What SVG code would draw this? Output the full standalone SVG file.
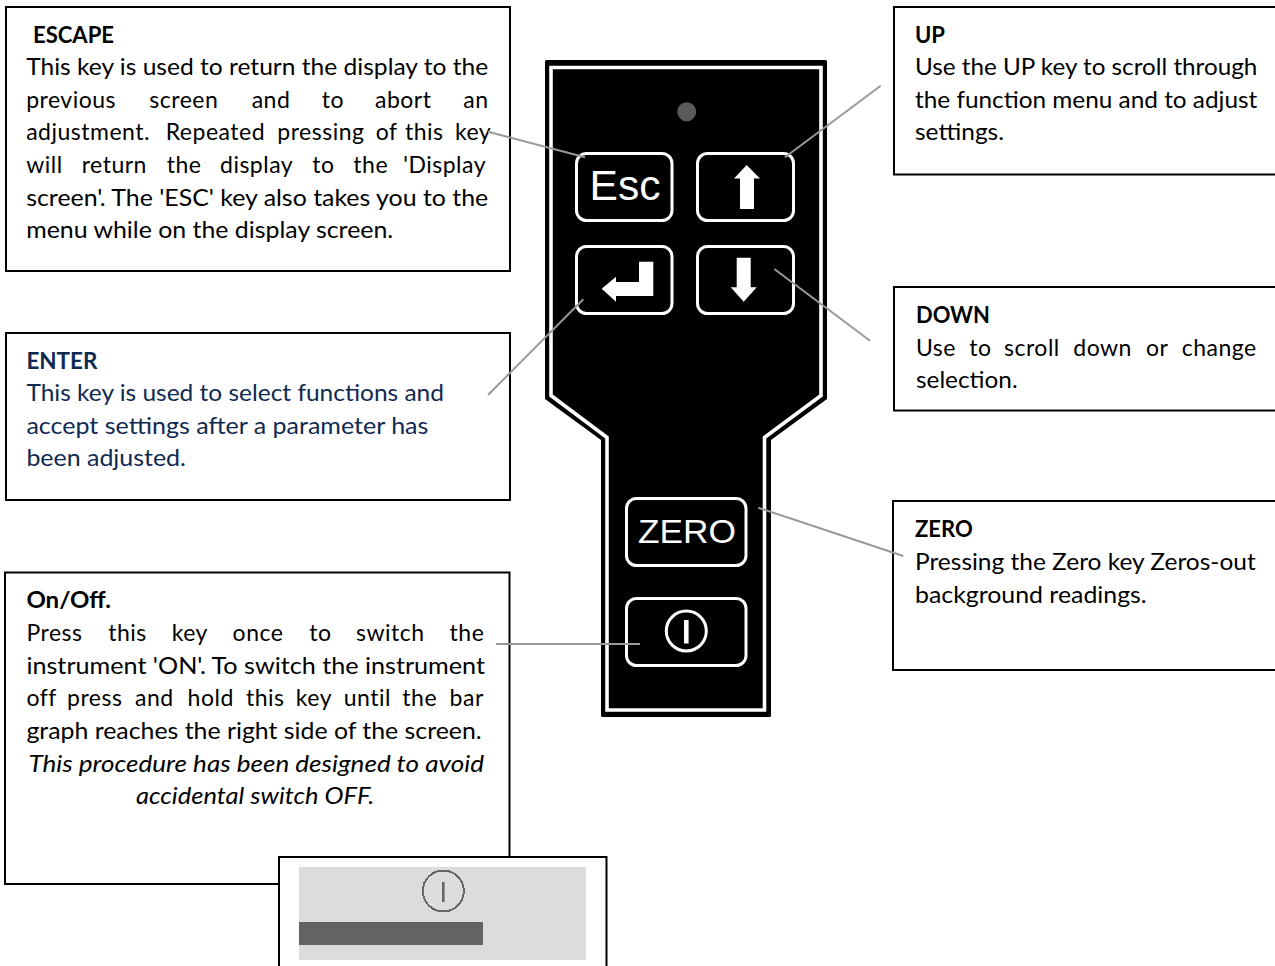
<svg xmlns="http://www.w3.org/2000/svg" width="1275" height="966" viewBox="0 0 1275 966">
<style>
.box{fill:#fff;stroke:#000;stroke-width:2}
.t{font-family:"Lato","Carlito","Noto Sans",sans-serif;font-size:23px;fill:#000}
.j{letter-spacing:.5px}
.b{font-weight:700}
.i{font-style:italic}
.n{fill:#0f2a52}
.key{fill:#000;stroke:#fff;stroke-width:3}
.glyph{fill:#fff}
.lbl{font-family:"Liberation Sans",Arial,sans-serif;fill:#fff}
.conn{stroke:#999;stroke-width:2;fill:none}
</style>
<rect width="1275" height="966" fill="#fff"/>

<g id="node-escape">
<rect class="box" x="6" y="7" width="504" height="264"/>
<text class="t b" x="33" y="43" textLength="81" lengthAdjust="spacingAndGlyphs">ESCAPE</text>
<text class="t" x="26.2" y="75" textLength="462" lengthAdjust="spacingAndGlyphs">This key is used to return the display to the</text>
<text class="t j" y="107.7"><tspan x="26.2">previous</tspan><tspan x="149.3">screen</tspan><tspan x="251.7">and</tspan><tspan x="321.7">to</tspan><tspan x="375">abort</tspan><tspan x="463.3">an</tspan></text>
<text class="t j" y="140.4"><tspan x="26.2">adjustment.</tspan><tspan x="165.7">Repeated</tspan><tspan x="277.3">pressing</tspan><tspan x="375.7">of</tspan><tspan x="405">this</tspan><tspan x="455">key</tspan></text>
<text class="t j" y="173"><tspan x="26.2">will</tspan><tspan x="81.7">return</tspan><tspan x="166.7">the</tspan><tspan x="220">display</tspan><tspan x="312.3">to</tspan><tspan x="353.3">the</tspan><tspan x="403.3">'Display</tspan></text>
<text class="t" x="26.2" y="205.7" textLength="462" lengthAdjust="spacingAndGlyphs">screen'. The 'ESC' key also takes you to the</text>
<text class="t" x="26.2" y="238.4" textLength="367" lengthAdjust="spacingAndGlyphs">menu while on the display screen.</text>
</g>

<g id="node-enter">
<rect class="box" x="6" y="333" width="504" height="167"/>
<text class="t b n" x="26.4" y="369" textLength="71" lengthAdjust="spacingAndGlyphs">ENTER</text>
<text class="t n" x="26.4" y="401" textLength="417.6" lengthAdjust="spacingAndGlyphs">This key is used to select functions and</text>
<text class="t n" x="26.4" y="433.6" textLength="402" lengthAdjust="spacingAndGlyphs">accept settings after a parameter has</text>
<text class="t n" x="26.4" y="466.3" textLength="159.6" lengthAdjust="spacingAndGlyphs">been adjusted.</text>
</g>

<g id="node-onoff">
<rect class="box" x="5" y="572.5" width="504.5" height="311.5"/>
<text class="t b" x="26.4" y="608" textLength="84.6" lengthAdjust="spacingAndGlyphs">On/Off.</text>
<text class="t j" y="641"><tspan x="26.4">Press</tspan><tspan x="108.2">this</tspan><tspan x="171.7">key</tspan><tspan x="232.6">once</tspan><tspan x="309.3">to</tspan><tspan x="356">switch</tspan><tspan x="449.6">the</tspan></text>
<text class="t" x="26.4" y="673.7" textLength="458.6" lengthAdjust="spacingAndGlyphs">instrument 'ON'. To switch the instrument</text>
<text class="t j" y="706.4"><tspan x="26.4">off</tspan><tspan x="67">press</tspan><tspan x="135">and</tspan><tspan x="187.6">hold</tspan><tspan x="246">this</tspan><tspan x="295.8">key</tspan><tspan x="343.8">until</tspan><tspan x="402.3">the</tspan><tspan x="449.6">bar</tspan></text>
<text class="t" x="26.4" y="739" textLength="455.3" lengthAdjust="spacingAndGlyphs">graph reaches the right side of the screen.</text>
<text class="t i" x="28.4" y="771.7" textLength="455.6" lengthAdjust="spacingAndGlyphs">This procedure has been designed to avoid</text>
<text class="t i" x="135.9" y="804.4" textLength="238.3" lengthAdjust="spacingAndGlyphs">accidental switch OFF.</text>
</g>

<g id="node-up">
<rect class="box" x="894" y="7" width="400" height="167.5"/>
<text class="t b" x="915" y="43" textLength="30" lengthAdjust="spacingAndGlyphs">UP</text>
<text class="t" x="915" y="75" textLength="342.3" lengthAdjust="spacingAndGlyphs">Use the UP key to scroll through</text>
<text class="t" x="915" y="107.7" textLength="342.3" lengthAdjust="spacingAndGlyphs">the function menu and to adjust</text>
<text class="t" x="915" y="140.4" textLength="89" lengthAdjust="spacingAndGlyphs">settings.</text>
</g>

<g id="node-down">
<rect class="box" x="894" y="287" width="400" height="123.5"/>
<text class="t b" x="916" y="322.7" textLength="74" lengthAdjust="spacingAndGlyphs">DOWN</text>
<text class="t j" y="355.5"><tspan x="916">Use</tspan><tspan x="969.3">to</tspan><tspan x="1004">scroll</tspan><tspan x="1073.3">down</tspan><tspan x="1146">or</tspan><tspan x="1181.7">change</tspan></text>
<text class="t" x="916" y="388.2" textLength="101.7" lengthAdjust="spacingAndGlyphs">selection.</text>
</g>

<g id="node-zero">
<rect class="box" x="893" y="501" width="400" height="169"/>
<text class="t b" x="915" y="536.7" textLength="57.7" lengthAdjust="spacingAndGlyphs">ZERO</text>
<text class="t" x="915" y="570" textLength="340.7" lengthAdjust="spacingAndGlyphs">Pressing the Zero key Zeros-out</text>
<text class="t" x="915" y="602.7" textLength="231.7" lengthAdjust="spacingAndGlyphs">background readings.</text>
</g>

<g id="node-keypad">
<path d="M546.5 60H825.5Q827 60 827 61.5V399L771 440V715.5Q771 717 769.5 717H602.5Q601 717 601 715.5V440L545 399V61.5Q545 60 546.5 60Z" fill="#000"/>
<path d="M551 67.5H821V395.5L764.5 437.5V710H607V437.5L551 395.5Z" fill="#000" stroke="#fff" stroke-width="3.6"/>
<circle cx="686.7" cy="111.7" r="9.5" fill="#5a5a5a"/>
<g id="key-esc">
<rect class="key" x="576.5" y="153.5" width="95.5" height="67" rx="10"/>
<text class="lbl" x="589.5" y="200" font-size="42" textLength="71" lengthAdjust="spacingAndGlyphs">Esc</text>
</g>
<g id="key-up">
<rect class="key" x="697.5" y="153.5" width="96" height="67" rx="10"/>
<polygon class="glyph" points="746.7,165 760,178.5 754,178.5 754,209 740,209 740,178.5 734,178.5"/>
</g>
<g id="key-enter">
<rect class="key" x="576.5" y="246.5" width="95.5" height="67" rx="10"/>
<polygon class="glyph" points="601.7,288.7 616,276.7 616,282 639,282 639,261.7 653.3,261.7 653.3,296 616,296 616,301.7"/>
</g>
<g id="key-down">
<rect class="key" x="697.5" y="246.5" width="96" height="67" rx="10"/>
<polygon class="glyph" points="736.7,257.7 750.7,257.7 750.7,287.3 756.7,287.3 743.7,301.7 730.7,287.3 736.7,287.3"/>
</g>
<g id="key-zero">
<rect class="key" x="626.5" y="498.5" width="119.5" height="67" rx="10"/>
<text class="lbl" x="638" y="543.3" font-size="34" textLength="98" lengthAdjust="spacingAndGlyphs">ZERO</text>
</g>
<g id="key-power">
<rect class="key" x="626.5" y="598.5" width="119.5" height="67" rx="10"/>
<circle cx="686.3" cy="631" r="20" fill="none" stroke="#fff" stroke-width="3"/>
<rect class="glyph" x="684" y="620" width="4.6" height="23.5"/>
</g>
</g>

<g id="node-screen">
<rect class="box" x="279" y="857" width="327.5" height="130"/>
<rect x="299" y="867" width="287" height="93" fill="#dcdcdc"/>
<rect x="299" y="922" width="184" height="23" fill="#636363"/>
<circle cx="443.3" cy="891" r="20.5" fill="none" stroke="#666" stroke-width="2" shape-rendering="crispEdges"/>
<rect x="442" y="882" width="2.6" height="20" fill="#666"/>
</g>

<g id="connectors">
<line class="conn" x1="488" y1="131.7" x2="585" y2="157.3"/>
<line class="conn" x1="880.7" y1="85.7" x2="785" y2="157.3"/>
<line class="conn" x1="488" y1="395" x2="583.3" y2="299.3"/>
<line class="conn" x1="774.3" y1="269" x2="870" y2="340.7"/>
<line class="conn" x1="758.3" y1="507.7" x2="903.3" y2="556"/>
<line class="conn" x1="496" y1="644" x2="640" y2="644"/>
</g>
</svg>
